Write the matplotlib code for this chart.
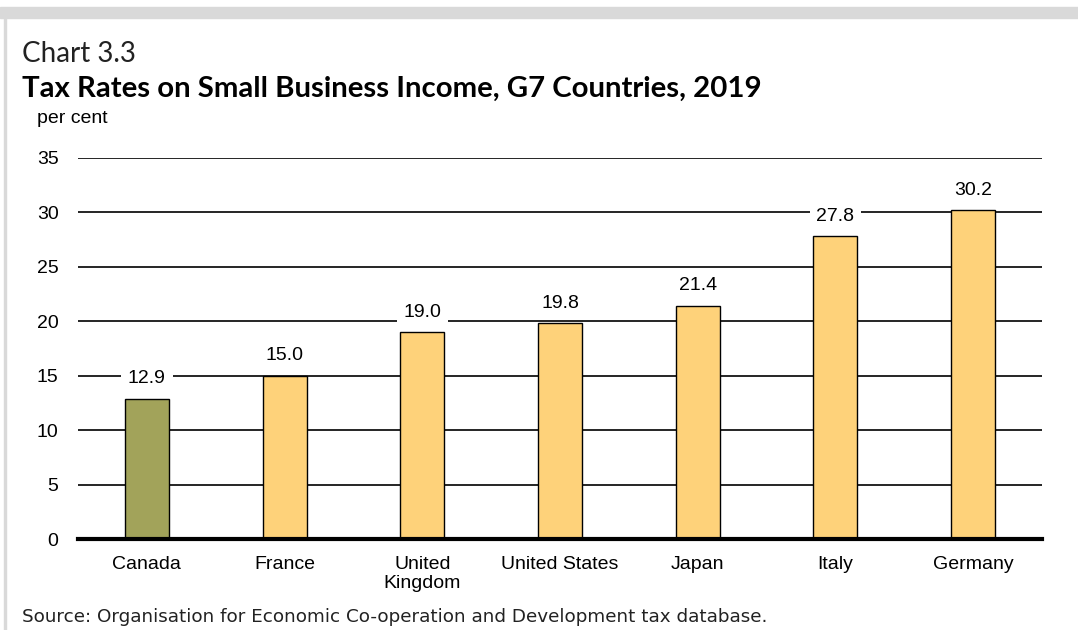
import numpy as np
import matplotlib.pyplot as plt
from matplotlib.patches import Rectangle

countries = ['Canada', 'France', 'United\nKingdom', 'United States', 'Japan', 'Italy', 'Germany']
rates = [12.9, 15.0, 19.0, 19.8, 21.4, 27.8, 30.2]
yticks = [0, 5, 10, 15, 20, 25, 30, 35]

canada_col = '#a2a35a'
other_col = '#fed27a'
colors = [canada_col] + [other_col] * (len(countries) - 1)

fig = plt.figure(figsize=(10.78, 6.3), dpi=100)

# frame decoration: gray band on top, thin gray line at left
fig.patches.append(Rectangle((0, 1 - 18 / 630), 1, 11 / 630, transform=fig.transFigure,
                             color='#d9d9d9', zorder=0))
fig.patches.append(Rectangle((4 / 1078, 0), 2 / 1078, 1 - 18 / 630, transform=fig.transFigure,
                             color='#d9d9d9', zorder=0))

ax = fig.add_axes([78 / 1078, 1 - 539 / 630, 964 / 1078, 381 / 630])

x = np.arange(len(countries))
ax.bar(x, rates, width=0.32, color=colors, edgecolor='black', linewidth=1, zorder=3)

for xi, v in zip(x, rates):
    ax.annotate(f'{v:.1f}', (xi, v), xytext=(0, 14.5), textcoords='offset points',
                ha='center', va='center', fontsize=14, family='Liberation Sans',
                bbox=dict(boxstyle='square,pad=0.35', fc='white', ec='none'), zorder=4)

ax.set_xlim(-0.5, len(countries) - 0.5)
ax.set_ylim(0, 35)
ax.set_yticks(yticks)
ax.yaxis.grid(True, color='black', linewidth=1.2)
ax.set_axisbelow(True)
ax.axhline(0, color='black', linewidth=3, zorder=5, clip_on=False)
for s in ax.spines.values():
    s.set_visible(False)
ax.set_xticks(x)
ax.set_xticklabels(countries, fontsize=14, family='Liberation Sans', linespacing=1.2)
ax.tick_params(axis='x', length=0, pad=12)
ax.tick_params(axis='y', length=0, pad=14, labelsize=14)
for lab in ax.get_yticklabels():
    lab.set_family('Liberation Sans')

fig.text(22 / 1078, 1 - 62 / 630, 'Chart 3.3', fontsize=20, family='Lato',
         color='#222222', va='baseline')
fig.text(22 / 1078, 1 - 97 / 630, 'Tax Rates on Small Business Income, G7 Countries, 2019',
         fontsize=21.2, family='Lato', fontweight='bold', va='baseline')
fig.text(37 / 1078, 1 - 123 / 630, 'per cent', fontsize=14, family='Liberation Sans',
         va='baseline')
fig.text(22 / 1078, 1 - 622 / 630,
         'Source: Organisation for Economic Co-operation and Development tax database.',
         fontsize=13.2, family='DejaVu Sans', color='#222222', va='baseline')

fig.savefig('out.png', dpi=100)
